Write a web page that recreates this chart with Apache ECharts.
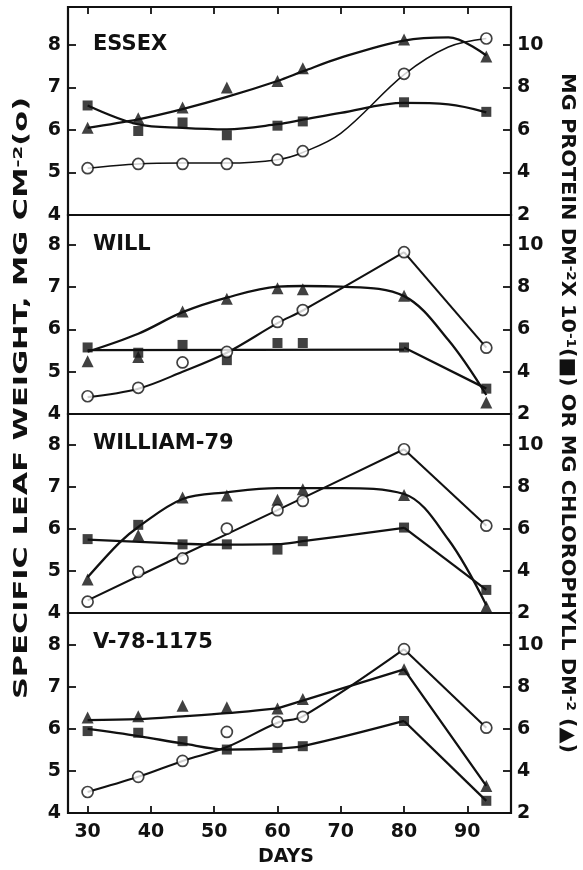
<!DOCTYPE html>
<html>
<head>
<meta charset="utf-8">
<script src="https://cdn.jsdelivr.net/npm/echarts@6/dist/echarts.min.js"></script>
<style>
  html, body { margin: 0; padding: 0; background: #fff; }
  #chart { width: 583px; height: 870px; }
</style>
</head>
<body>
<div id="chart"></div>
<script>
// Sampling days (days after planting)
const DAYS = [30, 38, 45, 52, 60, 64, 80, 93];
const X_TICKS = [30, 40, 50, 60, 70, 80, 90];
const PANEL_NAMES = ['ESSEX', 'WILL', 'WILLIAM-79', 'V-78-1175'];

// Measured values: leaf weight (mg cm-2, left axis), protein (mg dm-2 x 10-1) and chlorophyll (mg dm-2) on right axis
const essexLeaf    = [5.10, 5.20, 5.20, 5.20, 5.30, 5.50, 7.32, 8.15];
const essexProtein = [7.15, 5.95, 6.35, 5.75, 6.20, 6.40, 7.30, 6.85];
const essexChloro  = [6.10, 6.55, 7.05, 8.00, 8.30, 8.90, 10.25, 9.45];

const willLeaf     = [4.42, 4.62, 5.22, 5.47, 6.18, 6.46, 7.83, 5.57];
const willProtein  = [5.15, 4.90, 5.27, 4.55, 5.36, 5.36, 5.15, 3.20];
const willChloro   = [4.50, 4.70, 6.85, 7.45, 7.95, 7.90, 7.60, 2.55];

const w79Leaf      = [4.27, 4.98, 5.30, 6.01, 6.45, 6.67, 7.90, 6.08];
const w79Protein   = [5.52, 6.20, 5.27, 5.27, 5.02, 5.42, 6.07, 3.10];
const w79Chloro    = [3.60, 5.70, 7.50, 7.60, 7.40, 7.90, 7.62, 2.30];

const v78Leaf      = [4.50, 4.86, 5.24, 5.93, 6.17, 6.29, 7.90, 6.03];
const v78Protein   = [5.90, 5.82, 5.42, 5.02, 5.10, 5.18, 6.38, 2.58];
const v78Chloro    = [6.55, 6.60, 7.10, 7.03, 6.98, 7.43, 8.84, 3.29];

// Hand-fitted trend curves
const essexFitDays    = [30, 38, 45, 52, 60, 64, 70, 80, 87, 93];
const essexLeafFit    = [5.10, 5.20, 5.22, 5.22, 5.30, 5.47, 5.92, 7.30, 7.95, 8.15];
const essexProteinFit = [7.15, 6.26, 6.10, 6.03, 6.27, 6.48, 6.80, 7.27, 7.20, 6.83];
const essexChloroFit  = [6.10, 6.50, 6.98, 7.55, 8.30, 8.75, 9.40, 10.20, 10.35, 9.50];

const willFitDays       = [30, 38, 45, 52, 60, 64, 80];
const willLeafFit       = [4.40, 4.60, 5.00, 5.45, 6.15, 6.45, 7.83];
const willProteinFitDays = [30, 80];
const willProteinFit    = [5.02, 5.05];
const willChloroFitDays = [30, 38, 45, 52, 60, 64, 70, 80, 87, 93];
const willChloroFit     = [4.95, 5.80, 6.82, 7.51, 8.03, 8.06, 8.03, 7.58, 5.50, 2.90];

const w79LeafFitDays    = [30, 45, 60, 80];
const w79LeafFit        = [4.30, 5.38, 6.45, 7.90];
const w79ProteinFitDays = [30, 45, 52, 60, 64, 80];
const w79ProteinFit     = [5.50, 5.30, 5.26, 5.28, 5.42, 6.05];
const w79ChloroFitDays  = [30, 35, 38, 45, 52, 60, 70, 80, 87, 93];
const w79ChloroFit      = [3.70, 5.34, 6.10, 7.43, 7.75, 7.95, 7.95, 7.67, 5.50, 2.37];

const v78FitDays        = [30, 38, 45, 52, 60, 64, 80];
const v78LeafFit        = [4.50, 4.86, 5.24, 5.57, 6.15, 6.30, 7.90];
const v78ProteinFit     = [6.00, 5.66, 5.31, 5.02, 5.07, 5.18, 6.38];
const v78ChloroFitDays  = [30, 38, 45, 52, 60];
const v78ChloroFit      = [6.42, 6.47, 6.60, 6.75, 6.98];
const v78ChloroTailDays = [60, 80, 93];
const v78ChloroTail     = [6.98, 8.84, 3.29];

// Layout of the four stacked panels
const GRID_TOP = [7, 215, 414, 613];
const GRID_H = [208, 199, 199, 200];
const LEFT_MAX = [8.89, 8.71, 8.74, 8.76];
const X_MIN = 26.9, X_MAX = 96.9;

const FONT = 'DejaVu Sans';
const INK = '#111';

function pairs(xs, ys) { return xs.map((x, i) => [x, ys[i]]); }
function tail(ys) { return pairs(DAYS.slice(6), ys.slice(6)); }

// Per panel: markers and curves. axis 0 = left (leaf), 1 = right (protein / chlorophyll)
const panels = [
  {
    leaf: essexLeaf, protein: essexProtein, chloro: essexChloro,
    curves: [
      { d: pairs(essexFitDays, essexLeafFit), axis: 0, smooth: true, w: 1.5 },
      { d: pairs(essexFitDays, essexProteinFit), axis: 1, smooth: true, w: 2.3 },
      { d: pairs(essexFitDays, essexChloroFit), axis: 1, smooth: true, w: 2.3 }
    ]
  },
  {
    leaf: willLeaf, protein: willProtein, chloro: willChloro,
    curves: [
      { d: pairs(willFitDays, willLeafFit), axis: 0, smooth: true, w: 2.1 },
      { d: tail(willLeaf), axis: 0, smooth: false, w: 2.1 },
      { d: pairs(willProteinFitDays, willProteinFit), axis: 1, smooth: false, w: 2.3 },
      { d: tail(willProtein), axis: 1, smooth: false, w: 2.3 },
      { d: pairs(willChloroFitDays, willChloroFit), axis: 1, smooth: true, w: 2.3 }
    ]
  },
  {
    leaf: w79Leaf, protein: w79Protein, chloro: w79Chloro,
    curves: [
      { d: pairs(w79LeafFitDays, w79LeafFit), axis: 0, smooth: true, w: 2.1 },
      { d: tail(w79Leaf), axis: 0, smooth: false, w: 2.1 },
      { d: pairs(w79ProteinFitDays, w79ProteinFit), axis: 1, smooth: true, w: 2.3 },
      { d: tail(w79Protein), axis: 1, smooth: false, w: 2.3 },
      { d: pairs(w79ChloroFitDays, w79ChloroFit), axis: 1, smooth: true, w: 2.3 }
    ]
  },
  {
    leaf: v78Leaf, protein: v78Protein, chloro: v78Chloro,
    curves: [
      { d: pairs(v78FitDays, v78LeafFit), axis: 0, smooth: true, w: 2.1 },
      { d: tail(v78Leaf), axis: 0, smooth: false, w: 2.1 },
      { d: pairs(v78FitDays, v78ProteinFit), axis: 1, smooth: true, w: 2.3 },
      { d: tail(v78Protein), axis: 1, smooth: false, w: 2.3 },
      { d: pairs(v78ChloroFitDays, v78ChloroFit), axis: 1, smooth: true, w: 2.3 },
      { d: pairs(v78ChloroTailDays, v78ChloroTail), axis: 1, smooth: false, w: 2.3 }
    ]
  }
];

const labelStyle = { fontFamily: FONT, fontWeight: 'bold', fontSize: 19, color: INK };

const grid = [], xAxis = [], yAxis = [], series = [];
panels.forEach((p, i) => {
  grid.push({
    left: 68, right: 72, top: GRID_TOP[i], height: GRID_H[i],
    show: true, borderColor: INK, borderWidth: 2.2, backgroundColor: 'transparent'
  });
  const outer = i === 0 || i === panels.length - 1;
  xAxis.push({
    gridIndex: i, type: 'value', min: X_MIN, max: X_MAX,
    position: i === 0 ? 'top' : 'bottom',
    axisLine: { show: false },
    splitLine: { show: false },
    axisTick: { show: outer, inside: true, length: 7, customValues: X_TICKS, lineStyle: { color: INK, width: 1.8 } },
    axisLabel: Object.assign({ show: i === panels.length - 1, margin: 10, customValues: X_TICKS }, labelStyle)
  });
  const rightMax = 2 + 2 * (LEFT_MAX[i] - 4);
  yAxis.push({
    gridIndex: i, type: 'value', position: 'left', min: 4, max: LEFT_MAX[i], interval: 1,
    axisLine: { show: false }, splitLine: { show: false },
    axisTick: { show: true, inside: true, length: 8, lineStyle: { color: INK, width: 1.8 } },
    axisLabel: Object.assign({
      margin: 7,
      formatter: v => (Math.abs(v - Math.round(v)) < 1e-6 && v <= 8 ? String(Math.round(v)) : '')
    }, labelStyle)
  });
  yAxis.push({
    gridIndex: i, type: 'value', position: 'right', min: 2, max: rightMax, interval: 2,
    axisLine: { show: false }, splitLine: { show: false },
    axisTick: { show: true, inside: true, length: 8, lineStyle: { color: INK, width: 1.8 } },
    axisLabel: Object.assign({
      margin: 6,
      formatter: v => (Math.abs(v - Math.round(v)) < 1e-6 && v <= 10 ? String(Math.round(v)) : '')
    }, labelStyle)
  });

  p.curves.forEach(c => {
    series.push({
      type: 'line', xAxisIndex: i, yAxisIndex: 2 * i + c.axis,
      data: c.d, smooth: c.smooth ? 0.35 : false, showSymbol: false, symbol: 'none',
      lineStyle: { color: INK, width: c.w }, silent: true, z: 2, animation: false
    });
  });
  series.push({
    type: 'scatter', xAxisIndex: i, yAxisIndex: 2 * i + 1, data: pairs(DAYS, p.protein),
    symbol: 'rect', symbolSize: 10, itemStyle: { color: INK }, z: 3, animation: false
  });
  series.push({
    type: 'scatter', xAxisIndex: i, yAxisIndex: 2 * i + 1, data: pairs(DAYS, p.chloro),
    symbol: 'triangle', symbolSize: 12, itemStyle: { color: INK }, z: 3, animation: false
  });
  series.push({
    type: 'scatter', xAxisIndex: i, yAxisIndex: 2 * i, data: pairs(DAYS, p.leaf),
    symbol: 'circle', symbolSize: 11,
    itemStyle: { color: '#fff', borderColor: INK, borderWidth: 1.7 }, z: 4, animation: false
  });
});

const titleFont = 'bold 21px "' + FONT + '"';
const graphic = PANEL_NAMES.map((name, i) => ({
  type: 'text', x: 93, y: GRID_TOP[i] + (i === 0 ? 38 : 30),
  style: { text: name, font: titleFont, fill: INK, align: 'left', verticalAlign: 'middle',
           textAlign: 'left', textVerticalAlign: 'middle' }
}));

const rich = {
  a: { fontFamily: FONT, fontWeight: 'bold', fontSize: 20, fill: INK, color: INK },
  s: { fontFamily: FONT, fontWeight: 'bold', fontSize: 13, fill: INK, color: INK, verticalAlign: 'top' }
};
graphic.push({
  type: 'text', x: 22, y: 398, rotation: Math.PI / 2, scaleX: 1.52,
  style: { text: '{a|SPECIFIC LEAF WEIGHT, MG CM}{s|-2}{a|(o)}', rich: rich, fill: INK,
           align: 'center', verticalAlign: 'middle', textAlign: 'center', textVerticalAlign: 'middle' }
});
graphic.push({
  type: 'text', x: 567, y: 413, rotation: -Math.PI / 2, scaleX: 1.04,
  style: { text: '{a|MG PROTEIN DM}{s|-2}{a|X 10}{s|-1}{a|(■) OR MG CHLOROPHYLL DM}{s|-2}{a| (▲)}', rich: rich, fill: INK,
           align: 'center', verticalAlign: 'middle', textAlign: 'center', textVerticalAlign: 'middle' }
});
graphic.push({
  type: 'text', x: 286, y: 857,
  style: { text: 'DAYS', font: 'bold 19px "' + FONT + '"', fill: INK, align: 'center', verticalAlign: 'middle',
           textAlign: 'center', textVerticalAlign: 'middle' }
});

const chart = echarts.init(document.getElementById('chart'), null, { renderer: 'canvas' });
chart.setOption({
  animation: false,
  backgroundColor: '#fff',
  grid, xAxis, yAxis, series, graphic
});
</script>
</body>
</html>
